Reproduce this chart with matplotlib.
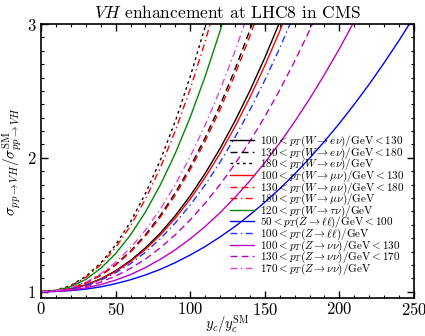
import matplotlib
matplotlib.use('Agg')
import matplotlib.pyplot as plt
from matplotlib.ticker import MultipleLocator

plt.rcParams['font.family'] = 'serif'
plt.rcParams['font.serif'] = ['cmr10']
plt.rcParams['mathtext.fontset'] = 'cm'
plt.rcParams['axes.formatter.use_mathtext'] = True

# charm Yukawa rescaling y_c / y_c^SM, sampled every 10
yc = [0, 10, 20, 30, 40, 50, 60, 70, 80, 90, 100, 110, 120, 130, 140, 150,
      160, 170, 180, 190, 200, 210, 220, 230, 240, 250]

# sigma(pp -> VH) / sigma_SM per CMS pT bin
w_enu_100_130 = [1.000, 1.005, 1.021, 1.051, 1.095, 1.156, 1.233, 1.327, 1.438, 1.568,
                 1.716, 1.883, 2.069, 2.275, 2.501, 2.747, 3.014, 3.301]
w_enu_130_180 = [1.000, 1.006, 1.027, 1.066, 1.124, 1.203, 1.303, 1.425, 1.570, 1.739,
                 1.932, 2.149, 2.392, 2.660, 2.954, 3.274]
w_enu_180 = [1.000, 1.010, 1.047, 1.114, 1.214, 1.349, 1.522, 1.733, 1.983, 2.273,
             2.606, 2.980, 3.398]
w_munu_100_130 = [1.000, 1.004, 1.020, 1.049, 1.092, 1.151, 1.225, 1.316, 1.424, 1.549,
                  1.692, 1.853, 2.033, 2.232, 2.451, 2.688, 2.946, 3.224]
w_munu_130_180 = [1.000, 1.006, 1.026, 1.064, 1.121, 1.198, 1.296, 1.415, 1.557, 1.722,
                  1.911, 2.123, 2.360, 2.622, 2.909, 3.222]
w_munu_180 = [1.000, 1.010, 1.044, 1.107, 1.202, 1.329, 1.492, 1.691, 1.926, 2.201,
              2.514, 2.867, 3.261]
w_taunu_120 = [1.000, 1.008, 1.038, 1.092, 1.174, 1.284, 1.424, 1.595, 1.798, 2.033,
               2.303, 2.607, 2.946, 3.321]
z_ll_50_100 = [1.000, 1.002, 1.008, 1.019, 1.036, 1.060, 1.089, 1.125, 1.167, 1.217,
               1.274, 1.337, 1.409, 1.487, 1.574, 1.668, 1.769, 1.879, 1.997, 2.123,
               2.257, 2.400, 2.550, 2.710, 2.877, 3.054]
z_ll_100 = [1.000, 1.004, 1.019, 1.046, 1.086, 1.141, 1.210, 1.295, 1.396, 1.513,
            1.647, 1.798, 1.967, 2.153, 2.357, 2.579, 2.820, 3.080]
z_nunu_100_130 = [1.000, 1.002, 1.011, 1.028, 1.053, 1.086, 1.128, 1.180, 1.242, 1.313,
                  1.395, 1.487, 1.590, 1.704, 1.828, 1.964, 2.111, 2.270, 2.440, 2.622,
                  2.815, 3.021]
z_nunu_130_170 = [1.000, 1.003, 1.016, 1.038, 1.071, 1.117, 1.174, 1.244, 1.328, 1.425,
                  1.536, 1.661, 1.800, 1.954, 2.123, 2.307, 2.506, 2.721, 2.952, 3.199]
z_nunu_170 = [1.000, 1.006, 1.029, 1.071, 1.134, 1.220, 1.328, 1.460, 1.617, 1.800,
              2.009, 2.244, 2.506, 2.796, 3.115]

labels = [
    r'$100 < p_T(W\to e\nu)/\mathrm{GeV} < 130$',
    r'$130 < p_T(W\to e\nu)/\mathrm{GeV} < 180$',
    r'$180 < p_T(W\to e\nu)/\mathrm{GeV}$',
    r'$100 < p_T(W\to \mu\nu)/\mathrm{GeV} < 130$',
    r'$130 < p_T(W\to \mu\nu)/\mathrm{GeV} < 180$',
    r'$180 < p_T(W\to \mu\nu)/\mathrm{GeV}$',
    r'$120 < p_T(W\to \tau\nu)/\mathrm{GeV}$',
    r'$50 < p_T(Z\to \ell\ell)/\mathrm{GeV} < 100$',
    r'$100 < p_T(Z\to \ell\ell)/\mathrm{GeV}$',
    r'$100 < p_T(Z\to \nu\nu)/\mathrm{GeV} < 130$',
    r'$130 < p_T(Z\to \nu\nu)/\mathrm{GeV} < 170$',
    r'$170 < p_T(Z\to \nu\nu)/\mathrm{GeV}$',
]
series = [w_enu_100_130, w_enu_130_180, w_enu_180,
          w_munu_100_130, w_munu_130_180, w_munu_180,
          w_taunu_120, z_ll_50_100, z_ll_100,
          z_nunu_100_130, z_nunu_130_170, z_nunu_170]

dashed = (0, (5, 3))
dotted = (0, (2, 2.5))
dashdot = (0, (5, 2.5, 1, 2.5))
styles = [('black', '-'), ('black', dashed), ('black', dotted),
          ('#ff0000', '-'), ('#ff0000', dashed), ('#ff0000', dashdot),
          ('#008800', '-'), ('#0000ff', '-'), ('#2233ff', dashdot),
          ('#c000c0', '-'), ('#c000c0', dashed), ('#dd44dd', dashdot)]

fig = plt.figure(figsize=(4.25, 3.36), dpi=100)
ax = fig.add_axes([0.0965, 0.112, 0.8775, 0.8165])

for vals, (col, ls), lab in zip(series, styles, labels):
    ax.plot(yc[:len(vals)], vals, color=col, linestyle=ls, lw=1.0, label=lab)

ax.set_xlim(0, 250)
ax.set_ylim(0.95, 3)
ax.xaxis.set_major_locator(MultipleLocator(50))
ax.xaxis.set_minor_locator(MultipleLocator(10))
ax.yaxis.set_major_locator(MultipleLocator(1))
ax.yaxis.set_minor_locator(MultipleLocator(0.1))
ax.tick_params(which='both', direction='in', top=True, right=True, labelsize=12)
ax.tick_params(which='major', length=5, width=1)
ax.tick_params(which='minor', length=2.5, width=0.8)
ax.tick_params(axis='x', pad=2)
for s in ax.spines.values():
    s.set_linewidth(1.2)

ax.set_title(r'$VH$ enhancement at LHC8 in CMS', fontsize=12.5, pad=4)
ax.set_xlabel(r'$y_c/y_c^{\mathrm{SM}}$', fontsize=10.5, labelpad=-3.5)
ax.set_ylabel(r'$\sigma_{pp\to VH}/\sigma_{pp\to VH}^{\mathrm{SM}}$', fontsize=11, labelpad=2)

ax.legend(loc='lower right', bbox_to_anchor=(0.995, 0.05), frameon=False, fontsize=8,
          labelspacing=-0.33, handlelength=2.1, handletextpad=0.55, borderpad=0.2)

fig.savefig('out.png', dpi=100)
